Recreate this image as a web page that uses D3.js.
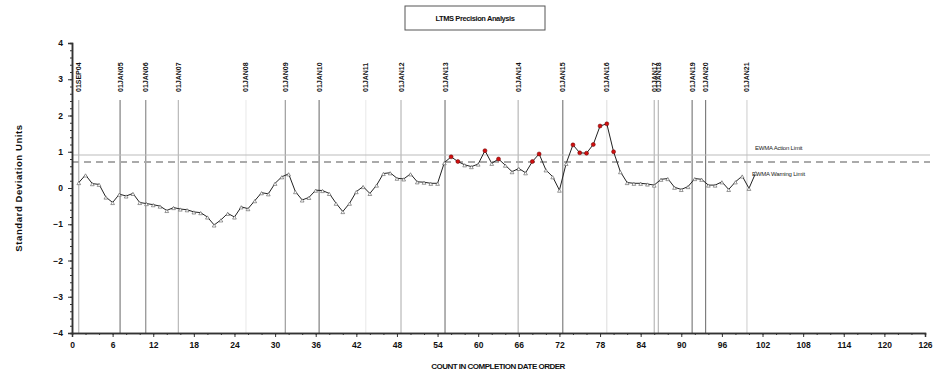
<!DOCTYPE html>
<html>
<head>
<meta charset="utf-8">
<script src="https://cdn.jsdelivr.net/npm/d3@7"></script>
<style>
  html, body { margin: 0; padding: 0; background: #fff; }
  svg { display: block; font-family: "Liberation Sans", Arial, sans-serif; }
</style>
</head>
<body>
<svg id="chart" width="942" height="374"></svg>
<script>
// EWMA standard-deviation units for each test, in completion order
const counts = d3.range(1, 102);
const ewma = [
  0.15, 0.36, 0.12, 0.10, -0.25, -0.40, -0.17, -0.22, -0.15, -0.40,
  -0.43, -0.46, -0.50, -0.62, -0.54, -0.58, -0.60, -0.66, -0.68, -0.80,
  -1.02, -0.88, -0.70, -0.80, -0.52, -0.57, -0.35, -0.13, -0.16, 0.13,
  0.31, 0.39, -0.10, -0.33, -0.26, -0.06, -0.07, -0.15, -0.42, -0.65,
  -0.42, -0.10, 0.04, -0.15, 0.08, 0.40, 0.42, 0.27, 0.25, 0.39,
  0.17, 0.16, 0.13, 0.13, 0.70, 0.86, 0.73, 0.64, 0.59, 0.66,
  1.03, 0.68, 0.80, 0.63, 0.45, 0.54, 0.42, 0.73, 0.94, 0.50,
  0.31, -0.06, 0.68, 1.19, 0.97, 0.96, 1.20, 1.71, 1.77, 1.00,
  0.45, 0.15, 0.13, 0.13, 0.11, 0.08, 0.24, 0.26, 0.02, -0.04,
  0.04, 0.26, 0.24, 0.08, 0.08, 0.17, -0.04, 0.17, 0.33, -0.01,
  0.42
];

// Control limits
const actionLimit = 0.91;
const warningLimit = 0.72;

// Calendar markers (position along the count axis and label)
const dateMarks = [1, 7.1, 10.9, 15.7, 25.7, 31.5, 36.5, 43.4, 48.6, 55.1,
                   65.9, 72.5, 79.0, 86.0, 86.6, 91.6, 93.6, 99.7];
const dateLabels = ["01SEP04", "01JAN05", "01JAN06", "01JAN07", "01JAN08", "01JAN09",
                    "01JAN10", "01JAN11", "01JAN12", "01JAN13", "01JAN14", "01JAN15",
                    "01JAN16", "01JAN17", "01JAN18", "01JAN19", "01JAN20", "01JAN21"];

const xTicks = d3.range(0, 127, 6);
const yTicks = d3.range(-4, 5, 1);

const svg = d3.select("#chart");
const plotL = 72, plotR = 925, plotT = 43, plotB = 333;

const x = d3.scaleLinear().domain([0, 126]).range([plotL, plotR]);
const y = d3.scaleLinear().domain([-4, 4]).range([plotB, plotT]);

// shade of each calendar marker line
const markShade = ["#aaa", "#666", "#777", "#aaa", "#e8e8e8", "#888", "#666", "#e8e8e8",
                   "#aaa", "#666", "#aaa", "#666", "#ddd", "#aaa", "#aaa", "#666", "#666", "#ccc"];

// Title box
svg.append("rect").attr("x", 405).attr("y", 6).attr("width", 140).attr("height", 24)
  .attr("fill", "#fff").attr("stroke", "#555").attr("stroke-width", 1);
svg.append("text").attr("x", 475).attr("y", 21).attr("text-anchor", "middle")
  .attr("font-size", 7.5).attr("font-weight", "bold").attr("fill", "#111")
  .attr("letter-spacing", "-0.4")
  .text("LTMS Precision Analysis");

// Calendar marker lines and labels
const marks = svg.append("g");
dateMarks.forEach((d, i) => {
  marks.append("line")
    .attr("x1", x(d)).attr("x2", x(d)).attr("y1", 100).attr("y2", plotB)
    .attr("stroke", markShade[i]).attr("stroke-width", 1);
  marks.append("text")
    .attr("transform", `translate(${x(d) + 2.5},92) rotate(-90)`)
    .attr("font-size", 7).attr("font-weight", "bold").attr("fill", "#111")
    .text(dateLabels[i]);
});

// Limit lines
svg.append("line").attr("x1", plotL).attr("x2", 930)
  .attr("y1", y(actionLimit)).attr("y2", y(actionLimit))
  .attr("stroke", "#bbb").attr("stroke-width", 1.2);
svg.append("line").attr("x1", plotL).attr("x2", 930)
  .attr("y1", y(warningLimit)).attr("y2", y(warningLimit))
  .attr("stroke", "#aaa").attr("stroke-width", 2).attr("stroke-dasharray", "7,5");
svg.append("text").attr("x", 755).attr("y", y(actionLimit) - 5)
  .attr("font-size", 6).attr("fill", "#222").attr("letter-spacing", "-0.2")
  .text("EWMA Action Limit");
svg.append("text").attr("x", 752).attr("y", y(warningLimit) + 14)
  .attr("font-size", 6).attr("fill", "#222").attr("letter-spacing", "-0.2")
  .text("EWMA Warning Limit");

// EWMA trace
const pts = counts.map((c, i) => ({ c, v: ewma[i] }));
svg.append("path").datum(pts)
  .attr("fill", "none").attr("stroke", "#222").attr("stroke-width", 1)
  .attr("d", d3.line().x(d => x(d.c)).y(d => y(d.v)));

const tri = d3.symbol().type(d3.symbolTriangle).size(6);
svg.append("g").selectAll("path").data(pts.filter(d => d.v <= warningLimit)).join("path")
  .attr("transform", d => `translate(${x(d.c)},${y(d.v) + 1})`)
  .attr("d", tri).attr("fill", "#fff").attr("stroke", "#555").attr("stroke-width", 0.6);
svg.append("g").selectAll("circle").data(pts.filter(d => d.v > warningLimit)).join("circle")
  .attr("cx", d => x(d.c)).attr("cy", d => y(d.v)).attr("r", 2)
  .attr("fill", "#d01010").attr("stroke", "#600").attr("stroke-width", 0.5);

// Axes
const xAxis = svg.append("g").attr("transform", `translate(0,${plotB})`)
  .call(d3.axisBottom(x).tickValues(xTicks).tickSize(4).tickPadding(5));
const xMinor = svg.append("g").attr("transform", `translate(0,${plotB})`)
  .call(d3.axisBottom(x).tickValues(d3.range(0, 127, 2)).tickSize(2).tickFormat(""));
const yAxis = svg.append("g").attr("transform", `translate(${plotL},0)`)
  .call(d3.axisLeft(y).tickValues(yTicks).tickSize(4).tickPadding(5).tickFormat(d3.format("d")));
const yMinor = svg.append("g").attr("transform", `translate(${plotL},0)`)
  .call(d3.axisLeft(y).tickValues(d3.range(-4, 4.01, 0.2)).tickSize(2).tickFormat(""));

[xAxis, xMinor, yAxis, yMinor].forEach(g => {
  g.select(".domain").attr("stroke", "#333").attr("stroke-width", 1.5);
  g.selectAll(".tick line").attr("stroke", "#333");
  g.selectAll("text").attr("font-size", 8.5).attr("font-weight", "bold").attr("fill", "#111")
    .attr("font-family", "Liberation Sans, Arial, sans-serif");
});

// Axis titles
svg.append("text").attr("x", 498).attr("y", 369).attr("text-anchor", "middle")
  .attr("font-size", 8).attr("font-weight", "bold").attr("fill", "#111")
  .attr("letter-spacing", "-0.5")
  .text("COUNT IN COMPLETION DATE ORDER");
svg.append("text").attr("transform", "translate(22,188) rotate(-90)")
  .attr("text-anchor", "middle").attr("font-size", 9.5).attr("font-weight", "bold")
  .attr("fill", "#111").attr("letter-spacing", "0.6")
  .text("Standard Deviation Units");
</script>
</body>
</html>
